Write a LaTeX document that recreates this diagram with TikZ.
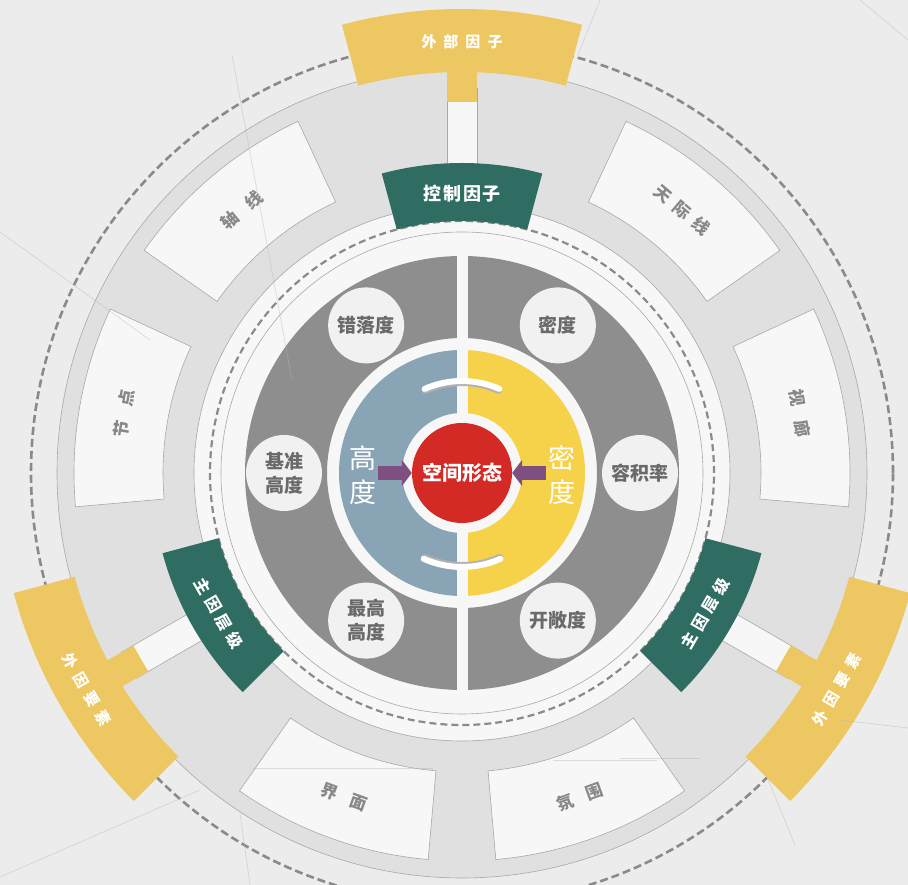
\documentclass[tikz,border=0pt]{standalone}
\usepackage{fontspec}
\newfontfamily\cjk{Noto Sans CJK SC}
\usetikzlibrary{arrows.meta}
\definecolor{bgc}{HTML}{ECECEC}
\definecolor{whitec}{HTML}{F7F7F7}
\definecolor{lgray}{HTML}{E0E0E0}
\definecolor{lline}{HTML}{A8A8A8}
\definecolor{dashg}{HTML}{8A8A8A}
\definecolor{greenc}{HTML}{2F6C62}
\definecolor{yellc}{HTML}{EDC762}
\definecolor{grayring}{HTML}{8E8E8E}
\definecolor{circc}{HTML}{F1F1F1}
\definecolor{circt}{HTML}{6A6A6A}
\definecolor{bluec}{HTML}{88A4B5}
\definecolor{yhalf}{HTML}{F6D24A}
\definecolor{redc}{HTML}{D32A26}
\definecolor{purp}{HTML}{7E4F80}
\definecolor{celltxt}{HTML}{888888}
\definecolor{bgline}{HTML}{B8B8B8}
\newcommand\annsec[4]{(#1:#4) arc[start angle=#1,end angle=#2,radius=#4] -- (#2:#3) arc[start angle=#2,end angle=#1,radius=#3] -- cycle}
\begin{document}
\begin{tikzpicture}[x=1pt,y=1pt,
  thinl/.style={draw=lline,line width=0.6},
  cellbox/.style={fill=whitec,draw=lline,line width=0.6},
  dashc/.style={draw=dashg,line width=2.6,dash pattern=on 8 off 4},
  dashin/.style={draw=dashg,line width=2.2,dash pattern=on 7 off 4},
  circnode/.style={circle,fill=circc,minimum size=76,inner sep=0,text=circt,align=center,font=\cjk\bfseries\fontsize{19}{24}\selectfont},
  celllab/.style={inner sep=0,text=celltxt,font=\cjk\bfseries\fontsize{17}{17}\selectfont},
  glab/.style={inner sep=0,text=white,font=\cjk\bfseries\fontsize{18}{18}\selectfont},
  glabs/.style={inner sep=0,text=white,font=\cjk\bfseries\fontsize{16}{16}\selectfont},
  ylab/.style={inner sep=0,text=white,font=\cjk\bfseries\fontsize{15}{15}\selectfont},
  bigtxt/.style={inner sep=0,align=center,font=\cjk\fontsize{27}{34}\selectfont},
  parrow/.style={draw=purp,line width=14,-{Triangle[length=10pt,width=26pt]}},
  wave/.style={draw=white,line width=6,line cap=round},
  waveshadow/.style={draw=black!30,line width=7,line cap=round},
  bgl/.style={draw=bgline,line width=0.7,opacity=0.45}]
\useasboundingbox (0,0) rectangle (908,885);
\fill[bgc] (0,0) rectangle (908,885);
\begin{scope}[shift={(462,412)}]
  % white inner disc and light grey ring
  \fill[whitec] (0,0) circle[radius=268];
  \fill[lgray,even odd rule] (0,0) circle[radius=405] (0,0) circle[radius=268];
  \draw[thinl] (0,0) circle[radius=405];
  \draw[thinl] (0,0) circle[radius=268];
  % factor cells
  \foreach \a in {10,50,130,170,250,290}{
    \pgfmathsetmacro\s{\a-15}\pgfmathsetmacro\e{\a+15}
    \filldraw[cellbox] \annsec{\s}{\e}{299}{388};
  }
  % outer dashed ring
  \draw[dashc] (0,0) circle[radius=431];
  % inner thin and dashed rings
  \draw[thinl] (0,0) circle[radius=241];
  \draw[dashin] (0,0) circle[radius=252];
  % stems, yellow and green boxes
  \foreach \a in {90,210,330}{
    \pgfmathsetmacro\s{\a-15}\pgfmathsetmacro\e{\a+15}
    \filldraw[cellbox,rotate=\a] (300,-15) rectangle (385,15);
    \fill[yellc,rotate=\a] (371,-15) rectangle (410,15);
    \fill[yellc] \annsec{\s}{\e}{401}{464};
    \fill[greenc] \annsec{\s}{\e}{252}{310};
  }
  % grey annulus
  \fill[grayring,even odd rule] (0,0) circle[radius=217] (0,0) circle[radius=135];
  % blue and yellow halves
  \fill[bluec] \annsec{90}{270}{60}{123};
  \fill[yhalf] \annsec{-90}{90}{60}{123};
  % white vertical stripe
  \fill[whitec] (-5.5,55) rectangle (5.5,217.5);
  \fill[whitec] (-5.5,-217.5) rectangle (5.5,-55);
  % white curved strokes
  \draw[waveshadow] (66:90.5) arc[start angle=66,end angle=114,radius=90.5];
  \draw[wave] (66:92) arc[start angle=66,end angle=114,radius=92];
  \draw[waveshadow] (246:92.5) arc[start angle=246,end angle=294,radius=92.5];
  \draw[wave] (246:94) arc[start angle=246,end angle=294,radius=94];
  % sub factor circles
  \node[circnode] (cuo) at (123:176) {错落度};
  \node[circnode] (mid) at (57:176) {密度};
  \node[circnode] (jzh) at (180:178) {基准\\高度};
  \node[circnode] (rjl) at (0:178) {容积率};
  \node[circnode] (zgh) at (237:176) {最高\\高度};
  \node[circnode] (kcd) at (303:176) {开敞度};
  % core
  \node[circle,fill=redc,minimum size=100,inner sep=0,text=white,font=\cjk\bfseries\fontsize{20}{20}\selectfont] (core) at (0,0) {空间形态};
  \coordinate (aL) at (-84,0);
  \coordinate (aR) at (84,0);
  \draw[parrow] (aL) -- (core);
  \draw[parrow] (aR) -- (core);
  % half ring labels
  \node[bigtxt,text=white] (gd) at (-99,-2) {高\\度};
  \node[bigtxt,text=white] (md) at (100,-2) {密\\度};
  % cell labels
  \node[celllab,rotate=40] (zx) at (130:343) {轴\hspace{14pt}线};
  \node[celllab,rotate=-40] (tjx) at (50:343) {天\hspace{8pt}际\hspace{8pt}线};
  \node[celllab,rotate=-80] (sl) at (10:343) {视\hspace{14pt}廊};
  \node[celllab,rotate=80] (jd) at (170:343) {节\hspace{14pt}点};
  \node[celllab,rotate=-20] (jm) at (250:345) {界\hspace{14pt}面};
  \node[celllab,rotate=20] (fw) at (290:345) {氛\hspace{14pt}围};
  % green labels
  \node[glab] (kz) at (90:279) {控\hspace{2pt}制\hspace{2pt}因\hspace{2pt}子};
  \node[glabs,rotate=-60] (zy1) at (210:281) {主\hspace{5pt}因\hspace{5pt}层\hspace{5pt}级};
  \node[glabs,rotate=60] (zy2) at (330:281) {主\hspace{5pt}因\hspace{5pt}层\hspace{5pt}级};
  % yellow labels
  \node[ylab] (wb) at (90:431) {外\hspace{7pt}部\hspace{7pt}因\hspace{7pt}子};
  \node[ylab,rotate=-60] (wy1) at (210:433) {外\hspace{7pt}因\hspace{7pt}要\hspace{7pt}素};
  \node[ylab,rotate=60] (wy2) at (330:433) {外\hspace{7pt}因\hspace{7pt}要\hspace{7pt}素};
\end{scope}
% faint background lines
\draw[bgl] (0,653) -- (150,545);
\draw[bgl] (232,830) -- (292,505);
\draw[bgl] (0,8) -- (200,95);
\draw[bgl] (240,72) -- (250,0);
\draw[bgl] (620,127) -- (700,127);
\draw[bgl] (840,165) -- (908,157);
\draw[bgl] (767,108) -- (795,40);
\draw[bgl] (600,885) -- (578,830);
\draw[bgl] (860,885) -- (908,845);
\draw[bgl] (253,117) -- (433,117);
\draw[bgl] (553,125) -- (657,125);
\end{tikzpicture}
\end{document}
